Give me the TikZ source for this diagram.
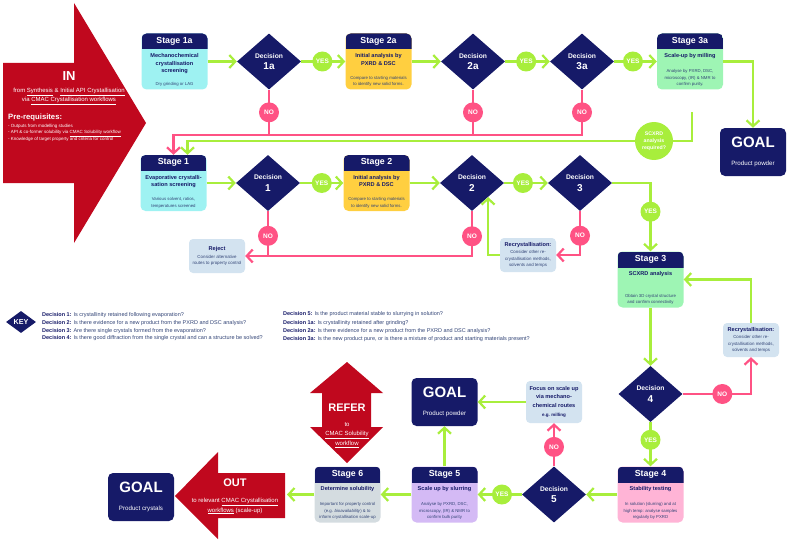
\documentclass[tikz,border=0pt]{standalone}
\usepackage{fontspec}
\setmainfont{Liberation Sans}
\usetikzlibrary{arrows.meta, positioning, shapes.geometric, calc}

\definecolor{cmacnavy}{RGB}{22,26,104}
\definecolor{cmacslate}{RGB}{50,68,118}
\definecolor{cmacgreen}{RGB}{168,238,60}
\definecolor{cmacpink}{RGB}{255,82,132}
\definecolor{cmacred}{RGB}{192,8,30}
\definecolor{cmacaqua}{RGB}{158,242,242}
\definecolor{cmacgold}{RGB}{255,207,64}
\definecolor{cmacmint}{RGB}{158,245,180}
\definecolor{cmacblush}{RGB}{255,180,214}
\definecolor{cmaclilac}{RGB}{212,186,245}
\definecolor{cmacash}{RGB}{212,220,224}
\definecolor{cmacpale}{RGB}{211,227,240}

% stage box: name, centre, body colour, heading, title, details
\newcommand{\stagebox}[6]{%
  \node[stage, fill=#3] (#1) at (#2) {};
  \node[stagehead] (#1-head) at ([yshift=-8pt]#1.north) {#4};
  \node[stagetitle] (#1-title) at ([yshift=-20pt]#1.north) {#5};
  \node[stagenote] (#1-note) at ([yshift=3pt]#1.south) {#6};
}
\newcommand{\dectext}[1]{Decision\\[3.5pt]{\fontsize{10}{10}\selectfont #1}}
\newcommand{\boxhead}[1]{{\fontsize{5.6}{7}\selectfont\bfseries\color{cmacnavy}#1}}
\newcommand{\keyhead}[1]{{\bfseries\color{cmacnavy}#1}}

\begin{document}
\begin{tikzpicture}[
  x=1pt, y=-1pt,
  stage/.style={rectangle, rounded corners=5pt, minimum width=66pt, minimum height=56pt, inner sep=0pt,
    path picture={\fill[cmacnavy, sharp corners] (path picture bounding box.north west) rectangle ([yshift=-16pt]path picture bounding box.north east);}},
  stagehead/.style={text=white, inner sep=0pt, font=\fontsize{8.8}{9}\selectfont\bfseries},
  stagetitle/.style={anchor=north, align=center, inner sep=0pt, text=cmacnavy, font=\fontsize{5.6}{7.6}\selectfont\bfseries},
  stagenote/.style={anchor=south, align=center, inner sep=0pt, text=cmacslate, font=\fontsize{4.3}{6.4}\selectfont},
  decision/.style={diamond, fill=cmacnavy, minimum width=64pt, minimum height=56pt, inner sep=0pt, text=white, align=center, font=\fontsize{6.7}{8}\selectfont\bfseries},
  yesdot/.style={circle, fill=cmacgreen, text=white, minimum size=20pt, inner sep=0pt, font=\fontsize{6.5}{7}\selectfont\bfseries},
  nodot/.style={yesdot, fill=cmacpink},
  askdot/.style={circle, fill=cmacgreen, text=white, minimum size=38pt, inner sep=0pt, align=center, font=\fontsize{5.2}{7.2}\selectfont\bfseries},
  goal/.style={rectangle, rounded corners=5pt, fill=cmacnavy, text=white, minimum width=66pt, minimum height=48pt, align=center, font=\fontsize{6.2}{7}\selectfont},
  infobox/.style={rectangle, rounded corners=4pt, fill=cmacpale, minimum width=56pt, minimum height=34pt, inner sep=1pt, align=center, text=cmacslate, font=\fontsize{4.4}{6.4}\selectfont},
  gline/.style={draw=cmacgreen, line width=2.2pt, -{Straight Barb[length=6pt, width=13pt]}},
  pline/.style={gline, draw=cmacpink},
  redtext/.style={text=white, inner sep=0pt, font=\fontsize{6}{7}\selectfont},
  bigword/.style={text=white, inner sep=0pt, font=\fontsize{13}{13}\selectfont\bfseries},
  keydia/.style={diamond, fill=cmacnavy, text=white, minimum width=30pt, minimum height=22pt, inner sep=0pt, font=\fontsize{7.2}{8}\selectfont\bfseries},
  keyline/.style={anchor=west, inner sep=0pt, text=cmacslate, font=\fontsize{5.5}{6}\selectfont}
]
  \useasboundingbox (0,0) rectangle (788,543);

  % IN arrow
  \fill[cmacred] (3,63) -- (74,63) -- (74,3) -- (146,123) -- (74,243) -- (74,183) -- (3,183) -- cycle;
  \node[bigword] (in-word) at (69,76) {IN};
  \node[redtext] (in-from) at (69,92) {from \underline{Synthesis} \& \underline{Initial API Crystallisation}};
  \node[redtext] (in-via) at (69,101) {via \underline{CMAC Crystallisation workflows}};
  \node[redtext, anchor=west, font=\fontsize{7.7}{8}\selectfont\bfseries] (prereq) at (8,118) {Pre-requisites:};
  \node[redtext, anchor=north west, align=left, font=\fontsize{4.5}{6.5}\selectfont] (prereq-list) at (8,124)
    {- Outputs from modelling studies\\- API \& co-former solubility via \underline{CMAC Solubility workflow}\\- Knowledge of target property and criteria for control};

  % top row
  \stagebox{s1a}{174.5,61.5}{cmacaqua}{Stage 1a}{Mechanochemical\\crystallisation\\screening}{Dry grinding or LAG}
  \node[decision] (d1a) at (269,61.5) {\dectext{1a}};
  \stagebox{s2a}{378.5,61.5}{cmacgold}{Stage 2a}{Initial analysis by\\PXRD \& DSC}{Compare to starting materials\\to identify new solid forms.}
  \node[decision] (d2a) at (473,61.5) {\dectext{2a}};
  \node[decision] (d3a) at (582,61.5) {\dectext{3a}};
  \stagebox{s3a}{690,61.5}{cmacmint}{Stage 3a}{Scale-up by milling}{Analyse by PXRD, DSC,\\microscopy, (IR) \& NMR to\\confirm purity.}
  \node[goal] (goal-top) at (753,152) {{\fontsize{15}{15}\selectfont\bfseries GOAL}\\[10.5pt]Product powder};
  \node[askdot] (scxrd) at (654,141) {SCXRD\\analysis\\required?};
  \coordinate (rail) at (0,135);
  \coordinate (tap) at (692,112);

  % middle row
  \stagebox{s1}{173.5,183}{cmacaqua}{Stage 1}{Evaporative crystalli-\\sation screening}{Various solvent, ratios,\\temperatures screened}
  \node[decision] (d1) at (268,183) {\dectext{1}};
  \stagebox{s2}{376.5,183}{cmacgold}{Stage 2}{Initial analysis by\\PXRD \& DSC}{Compare to starting materials\\to identify new solid forms.}
  \node[decision] (d2) at (472,183) {\dectext{2}};
  \node[decision] (d3) at (580,183) {\dectext{3}};
  \node[infobox] (reject) at (217,256) {\boxhead{Reject}\\[1pt]Consider alternative\\routes to property control};
  \node[infobox] (recryst-mid) at (528,255) {\boxhead{Recrystallisation:}\\[1pt]Consider other re-\\crystallisation methods,\\solvents and temps};
  \stagebox{s3}{650.5,279.5}{cmacmint}{Stage 3}{SCXRD analysis}{Obtain 3D crystal structure\\and confirm connectivity}
  \node[infobox] (recryst-right) at (751,340) {\boxhead{Recrystallisation:}\\[1pt]Consider other re-\\crystallisation methods,\\solvents and temps};

  % key
  \node[keydia] (key) at (21,322) {KEY};
  \node[keyline] (key-d1) at (42,315) {\keyhead{Decision 1:} Is crystallinity retained following evaporation?};
  \node[keyline] (key-d2) at (42,323) {\keyhead{Decision 2:} Is there evidence for a new product from the PXRD and DSC analysis?};
  \node[keyline] (key-d3) at (42,331) {\keyhead{Decision 3:} Are there single crystals formed from the evaporation?};
  \node[keyline] (key-d4) at (42,338) {\keyhead{Decision 4:} Is there good diffraction from the single crystal and can a structure be solved?};
  \node[keyline] (key-d5) at (283,314) {\keyhead{Decision 5:} Is the product material stable to slurrying in solution?};
  \node[keyline] (key-d1a) at (283,323) {\keyhead{Decision 1a:} Is crystallinity retained after grinding?};
  \node[keyline] (key-d2a) at (283,331) {\keyhead{Decision 2a:} Is there evidence for a new product from the PXRD and DSC analysis?};
  \node[keyline] (key-d3a) at (283,339) {\keyhead{Decision 3a:} Is the new product pure, or is there a mixture of product and starting materials present?};

  % lower part
  \node[decision] (d4) at (650.5,394) {\dectext{4}};
  \stagebox{s4}{650.5,494.5}{cmacblush}{Stage 4}{Stability testing}{In solution (slurring) and at\\high temp: analyse samples\\regularly by PXRD}
  \node[decision] (d5) at (554,494.5) {\dectext{5}};
  \node[infobox, minimum height=42pt, text=cmacnavy, font=\fontsize{5.6}{8.5}\selectfont\bfseries] (focus) at (554,402)
    {Focus on scale up\\via mechano-\\chemical routes\\[1pt]{\fontsize{4.5}{6}\selectfont e.g. milling}};
  \node[goal] (goal-mid) at (444.5,402) {{\fontsize{15}{15}\selectfont\bfseries GOAL}\\[10.5pt]Product powder};
  \stagebox{s5}{444.5,494.5}{cmaclilac}{Stage 5}{Scale up by slurring}{Analyse by PXRD, DSC,\\microscopy, (IR) \& NMR to\\confirm bulk purity}
  \stagebox{s6}{347.5,494.5}{cmacash}{Stage 6}{Determine solubility}{Important for property control\\(e.g. \textit{bioavailability}) \& to\\inform crystallisation scale-up}

  % REFER and OUT arrows
  \fill[cmacred] (347,362) -- (383,393) -- (371,393) -- (371,427) -- (383,427) -- (347,463) -- (310,427) -- (322,427) -- (322,393) -- (310,393) -- cycle;
  \node[bigword, font=\fontsize{11}{11}\selectfont\bfseries] (refer-word) at (347,408) {REFER};
  \node[redtext, align=center, font=\fontsize{6}{9.5}\selectfont] (refer-text) at (347,435) {to\\\underline{CMAC Solubility}\\\underline{workflow}};
  \fill[cmacred] (285,473) -- (218,473) -- (218,452) -- (175,496) -- (218,539) -- (218,518) -- (285,518) -- cycle;
  \node[bigword, font=\fontsize{11}{11}\selectfont\bfseries] (out-word) at (235,483) {OUT};
  \node[redtext, align=center, font=\fontsize{6}{10}\selectfont] (out-text) at (235,506) {to relevant \underline{CMAC Crystallisation}\\\underline{workflows} (scale-up)};
  \coordinate (out-tail) at (287,494.5);
  \node[goal] (goal-end) at (141,497) {{\fontsize{15}{15}\selectfont\bfseries GOAL}\\[10.5pt]Product crystals};

  % connectors, top row
  \draw[gline] (s1a.east) -- (d1a.west);
  \draw[gline] (d1a.east) -- node[yesdot, pos=0.48] (yes-1a) {YES} (s2a.west);
  \draw[gline] (s2a.east) -- (d2a.west);
  \draw[gline] (d2a.east) -- node[yesdot, pos=0.47] (yes-2a) {YES} (d3a.west);
  \draw[gline] (d3a.east) -- node[yesdot, pos=0.44] (yes-3a) {YES} (s3a.west);
  \draw[gline] (s3a.east) -| (goal-top.north);
  \draw[pline, -] (d1a.south) -- node[nodot, midway] (no-1a) {NO} (d1a.south |- rail);
  \draw[pline, -] (d2a.south) -- node[nodot, midway] (no-2a) {NO} (d2a.south |- rail);
  \draw[pline] (d3a.south) -- node[nodot, midway] (no-3a) {NO} (d3a.south |- rail) -| (s1.north);
  \draw[gline, -] (tap) |- (scxrd.east);
  \draw[gline] (scxrd.west) -| ([xshift=14pt]s1.north);

  % connectors, middle row
  \draw[gline] (s1.east) -- (d1.west);
  \draw[gline] (d1.east) -- node[yesdot, midway] (yes-1) {YES} (s2.west);
  \draw[gline] (s2.east) -- (d2.west);
  \draw[gline] (d2.east) -- node[yesdot, pos=0.43] (yes-2) {YES} (d3.west);
  \draw[gline] (d3.east) -| node[yesdot, pos=0.71] (yes-3) {YES} (s3.north);
  \draw[pline, -] (d1.south) -- node[nodot, pos=0.55] (no-1) {NO} (d1.south |- reject.east);
  \draw[pline] (d2.south) |- node[nodot, pos=0.28] (no-2) {NO} (reject.east);
  \draw[pline] (d3.south) |- node[nodot, pos=0.28] (no-3) {NO} (recryst-mid.east);
  \draw[gline] (recryst-mid.west) -| ($(d2.south)!0.5!(d2.east)$);

  % connectors, right column and bottom row
  \draw[gline] (recryst-right.north) |- (s3.east);
  \draw[gline] (s3.south) -- (d4.north);
  \draw[pline] (d4.east) -| node[nodot, pos=0.29] (no-4) {NO} (recryst-right.south);
  \draw[gline] (d4.south) -- node[yesdot, pos=0.4] (yes-4) {YES} (s4.north);
  \draw[gline] (s4.west) -- (d5.east);
  \draw[pline] (d5.north) -- node[nodot, pos=0.45] (no-5) {NO} (focus.south);
  \draw[gline] (focus.west) -- (goal-mid.east);
  \draw[gline] (d5.west) -- node[yesdot, pos=0.45] (yes-5) {YES} (s5.east);
  \draw[gline] (s5.north) -- (goal-mid.south);
  \draw[gline] (s5.west) -- (s6.east);
  \draw[gline] (s6.west) -- (out-tail);

\end{tikzpicture}
\end{document}
